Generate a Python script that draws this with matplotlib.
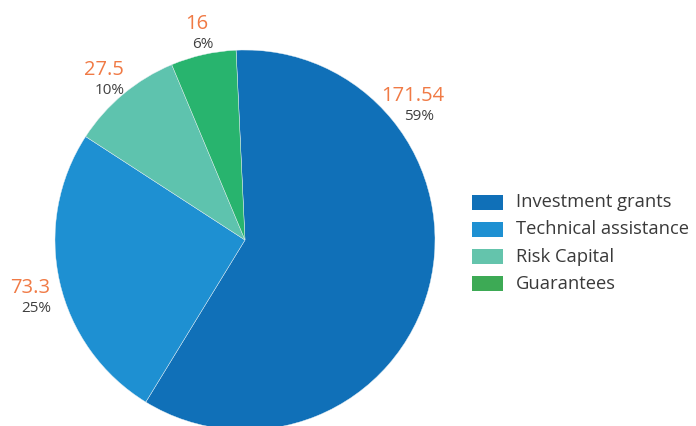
import matplotlib
matplotlib.use("Agg")
import matplotlib.pyplot as plt
from matplotlib.patches import Rectangle
import numpy as np

# Budget allocation by instrument
categories = ["Investment grants", "Technical assistance", "Risk Capital", "Guarantees"]
values = [171.54, 73.3, 27.5, 16]
value_labels = ["171.54", "73.3", "27.5", "16"]
slice_colors = ["#1070b8", "#1e90d2", "#5ec3ae", "#28b46e"]
legend_colors = ["#1070b8", "#1e90d2", "#64c4ac", "#3daa55"]

W, H = 696, 426
fig = plt.figure(figsize=(W / 100, H / 100), dpi=100)
ax = fig.add_axes([0, 0, 1, 1])

cx, cy, r = 245, H - 240, 190
start = 92.7
wedges, _ = ax.pie(values, colors=slice_colors, startangle=start, counterclock=False,
                   center=(cx, cy), radius=r, frame=True,
                   wedgeprops=dict(edgecolor="#e8f0f4", linewidth=0.3))
ax.set_xlim(0, W)
ax.set_ylim(0, H)
ax.set_aspect("equal")
ax.axis("off")

total = sum(values)
label_font = "Open Sans"
for i, (w, v, vl) in enumerate(zip(wedges, values, value_labels)):
    mid = (w.theta1 + w.theta2) / 2
    if i == 0:
        mid = 40.5  # keep the large slice's label in the upper right
    a = np.deg2rad(mid)
    lx = cx + 1.16 * r * np.cos(a)
    ly = cy + 1.16 * r * np.sin(a)
    ax.text(lx, ly + 1, vl, ha="center", va="center", color="#f07a45",
            fontsize=14.5, family=label_font)
    pct = f"{round(v / total * 100)}%"
    ax.text(lx + 6, ly - 20, pct, ha="center", va="center", color="#404040",
            fontsize=11, family=label_font)

# legend
lx0, ly0, step = 472, H - 202, 27.3
for i, (c, name) in enumerate(zip(legend_colors, categories)):
    y = ly0 - i * step
    ax.add_patch(Rectangle((lx0, y - 7.5), 31, 15, facecolor=c, edgecolor="none"))
    ax.text(516, y, name, ha="left", va="center", color="#3a3a3a",
            fontsize=13.2, family=label_font)

fig.savefig("out.png", dpi=100)
